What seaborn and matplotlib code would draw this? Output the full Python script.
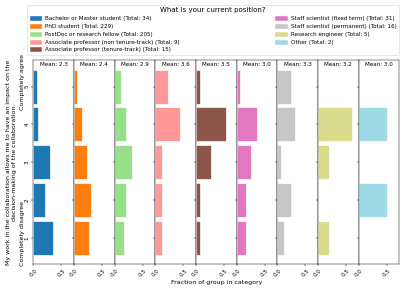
import matplotlib
matplotlib.use("Agg")
import matplotlib.pyplot as plt
import matplotlib.patches as mpatches
import numpy as np
import seaborn as sns

# survey answers 1..5 (completely disagree -> completely agree)
answers = [1, 2, 3, 4, 5]

positions = [
    "Bachelor or Master student",
    "PhD student",
    "PostDoc or research fellow",
    "Associate professor (non tenure-track)",
    "Associate professor (tenure-track)",
    "Staff scientist (fixed term)",
    "Staff scientist (permanent)",
    "Research engineer",
    "Other",
]

# number of answers per category, one list per position
bachelor = [12, 7, 10, 3, 2]
phd = [61, 68, 55, 34, 11]
postdoc = [35, 43, 62, 42, 23]
assoc_non_tenure = [1, 1, 1, 4, 2]
assoc_tenure = [1, 1, 4, 8, 1]
staff_fixed = [5, 5, 8, 11, 2]
staff_permanent = [2, 4, 1, 5, 4]
engineer = [1, 0, 1, 3, 0]
other = [0, 1, 0, 1, 0]

counts = [bachelor, phd, postdoc, assoc_non_tenure, assoc_tenure,
          staff_fixed, staff_permanent, engineer, other]

tab20 = sns.color_palette("tab20", 20)
colors = [tab20[i] for i in (0, 2, 5, 7, 10, 12, 15, 17, 19)]

question = ("My work in the collaboration allows me to have an impact on the\n"
            "decision-making of the collaboration.")

fig, axes = plt.subplots(1, 9, figsize=(10, 7.15), dpi=40.7,
                         sharex=True, sharey=True)
fig.subplots_adjust(left=0.082, right=0.981, bottom=0.092, top=0.793, wspace=0)

handles = []
for ax, name, cnt, col in zip(axes, positions, counts, colors):
    cnt = np.array(cnt)
    total = cnt.sum()
    frac = cnt / total
    mean = (cnt * np.array(answers)).sum() / total
    sns.barplot(x=frac, y=answers, orient="y", native_scale=True, width=0.9,
                color=col, saturation=1, edgecolor="white", linewidth=1.2,
                errorbar=None, ax=ax)
    ax.text(0.5, 0.99, f"Mean: {mean:.1f}", transform=ax.transAxes,
            ha="center", va="top", fontsize=10)
    ax.set_ylabel("")
    ax.set_xlabel("")
    handles.append(mpatches.Patch(color=col, label=f"{name} (Total: {total})"))

axes[0].set_xlim(0, 0.725)
axes[0].set_xticks([0, 0.5])
axes[0].set_yticks(answers)
axes[0].set_ylim(0.305, 5.695)
for ax in axes:
    plt.setp(ax.get_xticklabels(), rotation=45, fontsize=10)
plt.setp(axes[0].get_yticklabels(), rotation=90, va="center", fontsize=10)

axes[0].set_ylabel(question, fontsize=11)
axes[0].yaxis.set_label_coords(-0.40, 0.5)
axes[0].text(-0.27, -0.01, "Completely disagree", transform=axes[0].transAxes,
             rotation=90, ha="center", va="bottom", fontsize=11)
axes[0].text(-0.27, 1.03, "Completely agree", transform=axes[0].transAxes,
             rotation=90, ha="center", va="top", fontsize=11)
axes[4].set_xlabel("Fraction of group in category", fontsize=11)

fig.legend(handles=handles, ncol=2, mode="expand", loc="upper left",
           bbox_to_anchor=(0.067, 0.803, 0.914, 0.18), borderaxespad=0,
           title="What is your current position?", title_fontsize=12.5,
           fontsize=10)

fig.savefig("out.png", dpi=40.7)
